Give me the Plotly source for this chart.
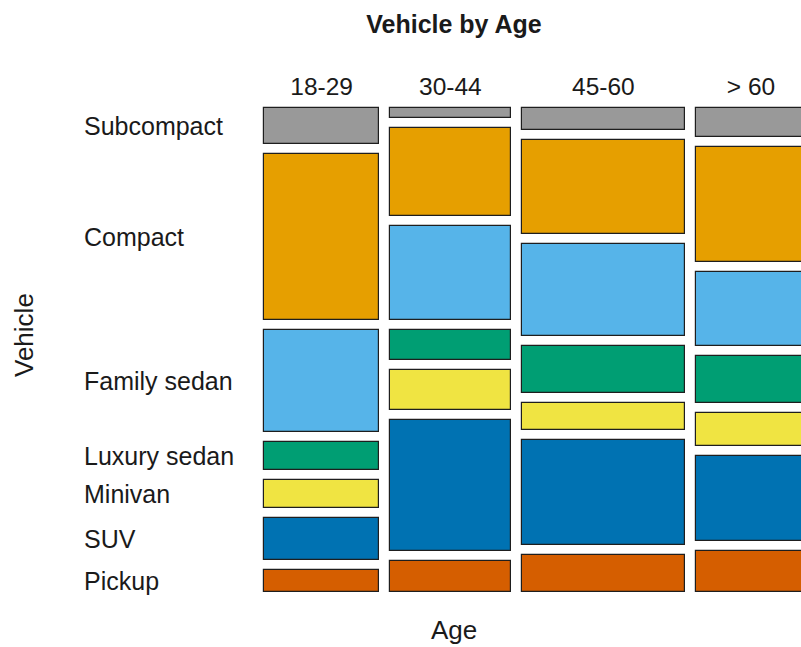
import plotly.graph_objects as go

# ---- data ----
age_groups = ["18-29", "30-44", "45-60", "> 60"]
age_share = [22.6, 23.7, 32.1, 21.6]          # % of respondents per age group (column widths)
vehicles = ["Subcompact", "Compact", "Family sedan", "Luxury sedan", "Minivan", "SUV", "Pickup"]
# % of each vehicle type within each age group (column order as age_groups)
share = {
    "Subcompact":   [8.4, 2.4, 5.2, 6.9],
    "Compact":      [39.3, 20.6, 22.2, 27.1],
    "Family sedan": [24.1, 22.2, 21.6, 17.3],
    "Luxury sedan": [6.5, 7.1, 11.1, 11.2],
    "Minivan":      [6.7, 9.6, 6.5, 7.8],
    "SUV":          [9.9, 30.9, 24.6, 20.0],
    "Pickup":       [5.1, 7.2, 8.8, 9.7],
}
colors = {
    "Subcompact": "#999999",
    "Compact": "#E69F00",
    "Family sedan": "#56B4E9",
    "Luxury sedan": "#009E73",
    "Minivan": "#F0E442",
    "SUV": "#0072B2",
    "Pickup": "#D55E00",
}

# ---- layout constants ----
W, H = 801, 647
ML, MT, MB, MR = 262, 106, 53, 0
PAD_Y = 0.47     # small padding (data units) so outer borders are not clipped
PAD_X = 0.39
GAP_X = 2.1      # spacing between columns, data units
GAP_Y = 2.36     # spacing between boxes, data units
FONT = "Liberation Sans, Arial, Helvetica, sans-serif"

# column geometry from data
lefts, centers = [], []
acc = 0.0
for i, w in enumerate(age_share):
    left = acc + i * GAP_X
    lefts.append(left)
    centers.append(left + w / 2)
    acc += w

# box geometry: stacked from top within each column
tops = {v: [] for v in vehicles}
for j in range(len(age_groups)):
    acc = 0.0
    for i, v in enumerate(vehicles):
        tops[v].append(acc + i * GAP_Y)
        acc += share[v][j]
y_total = 100 + GAP_Y * (len(vehicles) - 1)

fig = go.Figure()
for v in vehicles:
    fig.add_trace(go.Bar(
        x=centers, y=share[v], base=tops[v], width=age_share,
        marker=dict(color=colors[v], line=dict(color="#1e1e1e", width=1.2)),
        name=v, showlegend=False,
        hovertemplate=v + " %{x}<extra></extra>",
    ))

# row labels (left-aligned, at first-column box centres)
plot_w = W - ML - MR
plot_h = H - MT - MB
for v in vehicles:
    yc = tops[v][0] + share[v][0] / 2
    fig.add_annotation(
        x=(82 - ML) / plot_w, xref="paper", y=yc, yref="y",
        text=v, showarrow=False, xanchor="left", yanchor="middle",
        font=dict(family=FONT, size=25, color="#1a1a1a"),
    )

# axis titles
fig.add_annotation(x=(454 - ML) / plot_w, xref="paper", y=-(630 - (H - MB)) / plot_h,
                   yref="paper", text="Age", showarrow=False, xanchor="center", yanchor="middle",
                   font=dict(family=FONT, size=26, color="#1a1a1a"))
fig.add_annotation(x=(24 - ML) / plot_w, xref="paper", y=1 - (335 - MT) / plot_h,
                   yref="paper", text="Vehicle", showarrow=False, textangle=-90,
                   xanchor="center", yanchor="middle",
                   font=dict(family=FONT, size=26, color="#1a1a1a"))

fig.update_layout(
    width=W, height=H,
    margin=dict(l=ML, r=MR, t=MT, b=MB, pad=0),
    paper_bgcolor="white", plot_bgcolor="white",
    barmode="overlay", bargap=0,
    title=dict(text="<b>Vehicle by Age</b>", x=454 / W, xref="container", xanchor="center",
               y=1 - 24 / H, yref="container", yanchor="middle",
               font=dict(family=FONT, size=25, color="#1a1a1a")),
    xaxis=dict(range=[-PAD_X, 105.3], side="top", tickvals=centers, ticktext=age_groups,
               ticks="", showgrid=False, zeroline=False, showline=False,
               tickfont=dict(family=FONT, size=24.5, color="#1a1a1a"), ticklabelstandoff=5),
    yaxis=dict(range=[y_total + PAD_Y, -PAD_Y], showticklabels=False, ticks="", showgrid=False,
               zeroline=False, showline=False),
)

fig.write_html("out.html", config={"displayModeBar": False},
               post_script="document.body.style.margin='0px';")
